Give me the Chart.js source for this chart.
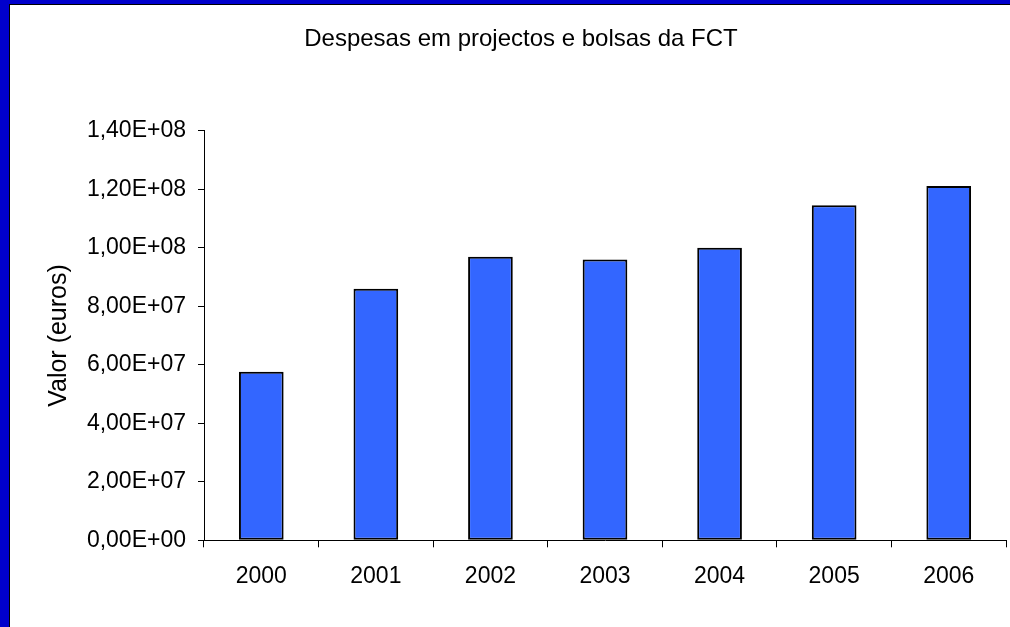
<!DOCTYPE html>
<html>
<head>
<meta charset="utf-8">
<script src="https://cdn.jsdelivr.net/npm/chart.js@4"></script>
<style>
  html, body { margin: 0; padding: 0; }
  body { width: 1010px; height: 627px; position: relative; overflow: hidden; background: #0000CC; font-family: "Liberation Sans", Arial, sans-serif; }
  #inner { position: absolute; left: 9px; top: 4px; right: 0; bottom: 0; background: #fff; border-left: 1px solid #000; border-top: 1px solid #000; }
  #c { position: absolute; left: 0; top: 0; }
</style>
</head>
<body>
<div id="inner"></div>
<canvas id="c" width="1010" height="627"></canvas>
<script>
const years = ["2000", "2001", "2002", "2003", "2004", "2005", "2006"];
const values = [5.76e7, 8.60e7, 9.69e7, 9.60e7, 1.00e8, 1.145e8, 1.211e8];
const chartTitle = "Despesas em projectos e bolsas da FCT";
const yAxisTitle = "Valor (euros)";
const yMin = 0, yMax = 1.4e8, yStep = 2e7;

function sci(v) {
  if (Math.abs(v) < 1e-9) return "0,00E+00";
  const exp = Math.floor(Math.log10(v) + 1e-9);
  const mant = v / Math.pow(10, exp);
  return mant.toFixed(2).replace('.', ',') + 'E+' + String(exp).padStart(2, '0');
}

const FONT = "'Liberation Sans', Arial, sans-serif";

new Chart(document.getElementById('c'), {
  type: 'bar',
  data: {
    labels: years,
    datasets: [{
      data: values,
      backgroundColor: '#3366FF',
      borderColor: '#000000',
      borderWidth: 2,
      borderSkipped: false,
      categoryPercentage: 1.0,
      barPercentage: 0.39
    }]
  },
  options: {
    responsive: false,
    animation: false,
    devicePixelRatio: 1,
    layout: { padding: { left: 36, right: 4, top: 0, bottom: 0 } },
    plugins: {
      legend: { display: false },
      tooltip: { enabled: false },
      title: {
        display: true,
        text: chartTitle,
        color: '#000',
        font: { family: FONT, size: 24, weight: 'normal' },
        padding: { top: 24.6, bottom: 77.3 }
      }
    },
    scales: {
      x: {
        grid: { display: true, drawOnChartArea: false, drawTicks: true, tickLength: 7, color: '#000', offset: true },
        border: { display: true, color: '#000', width: 1 },
        ticks: { color: '#000', font: { family: FONT, size: 23 }, padding: 16, maxRotation: 0 },
        afterFit: (s) => { s.height = 86.7; }
      },
      y: {
        min: yMin, max: yMax,
        grid: { display: true, drawOnChartArea: false, drawTicks: true, tickLength: 6, color: '#000' },
        border: { display: true, color: '#000', width: 1 },
        ticks: { stepSize: yStep, color: '#000', font: { family: FONT, size: 23 }, padding: 12, callback: (v) => sci(v) },
        title: { display: true, text: yAxisTitle, color: '#000', font: { family: FONT, size: 25 }, padding: { top: 8, bottom: 0 } },
        afterFit: (s) => { s.width = 168; }
      }
    }
  }
});
</script>
</body>
</html>
